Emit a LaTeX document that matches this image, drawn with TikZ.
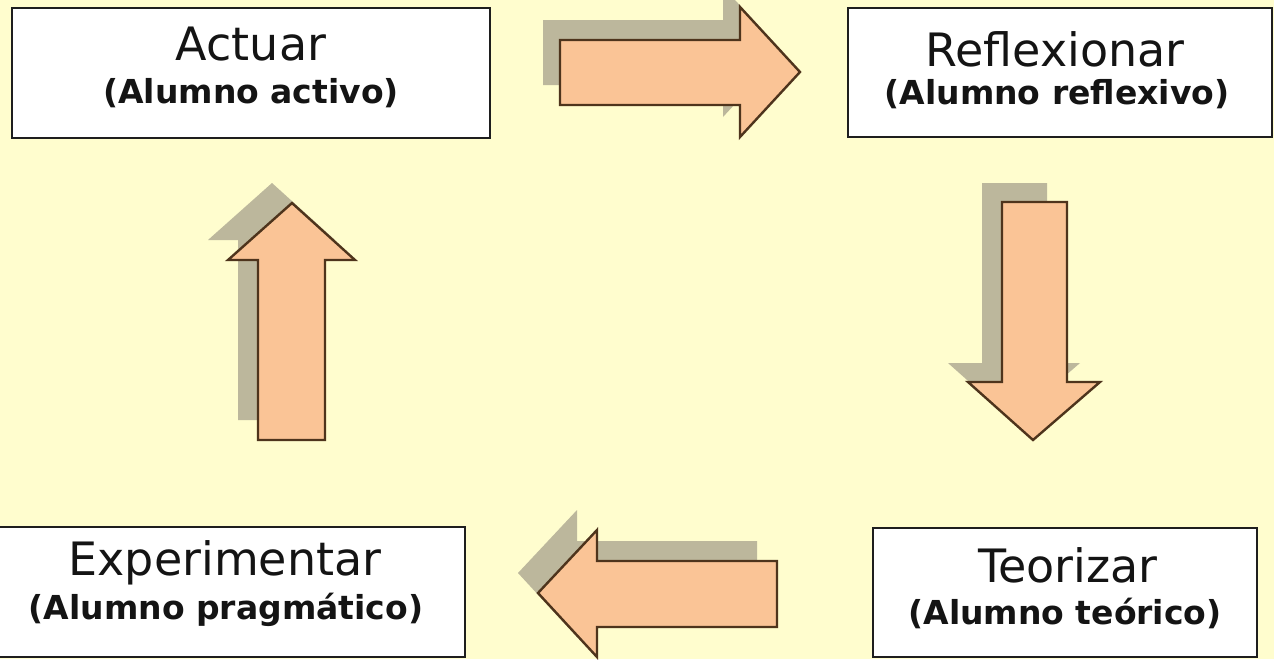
\documentclass[tikz,border=0pt]{standalone}
\usepackage{fontspec}
\setmainfont{DejaVu Sans}
\definecolor{bgc}{RGB}{255,253,206}
\definecolor{peach}{RGB}{250,196,150}
\definecolor{shadowc}{RGB}{188,183,156}
\definecolor{brownline}{RGB}{78,52,28}
\definecolor{boxline}{RGB}{30,30,30}
\tikzset{
  box/.style={draw=boxline, line width=1.2pt, fill=white, rectangle, inner sep=0pt},
  ttl/.style={anchor=base, inner sep=0pt, text=black!92, font=\fontsize{23}{27}\selectfont},
  sub/.style={anchor=base, inner sep=0pt, text=black!92, font=\bfseries\fontsize{16.5}{20}\selectfont},
  blockarrow/.style={fill=peach, draw=brownline, line width=1.2pt, line join=miter},
  arrowshadow/.style={fill=shadowc}
}
\begin{document}
\begin{tikzpicture}[x=0.5pt, y=-0.5pt]
\fill[bgc] (0,0) rectangle (1274,659);
\useasboundingbox (0,0) rectangle (1274,659);
\clip (0,0) rectangle (1274,659);

% boxes
\node[box, minimum width=239pt, minimum height=65pt] (actuar) at (251,73) {};
\node[box, minimum width=212pt, minimum height=64.5pt] (reflex) at (1060,72.5) {};
\node[box, minimum width=239pt, minimum height=65pt] (exper) at (226,592) {};
\node[box, minimum width=192pt, minimum height=64.5pt] (teor) at (1065,592.5) {};

% labels
\node[ttl] (actuarT) at (251,60) {Actuar};
\node[sub] (actuarS) at (251,103) {(Alumno activo)};
\node[ttl] (reflexT) at (1055,66) {Reflexionar};
\node[sub] (reflexS) at (1057,104) {(Alumno reflexivo)};
\node[ttl] (experT) at (225,575) {Experimentar};
\node[sub] (experS) at (226,619) {(Alumno pragmático)};
\node[ttl] (teorT) at (1068,582) {Teorizar};
\node[sub] (teorS) at (1065,624) {(Alumno teórico)};

% right arrow (top)
\fill[arrowshadow, shift={(-17,-20)}] (560,40) -- (740,40) -- (740,7) -- (800,72) -- (740,137) -- (740,105) -- (560,105) -- cycle;
\filldraw[blockarrow] (560,40) -- (740,40) -- (740,7) -- (800,72) -- (740,137) -- (740,105) -- (560,105) -- cycle;

% down arrow (right)
\fill[arrowshadow, shift={(-20,-19)}] (1002,202) -- (1067,202) -- (1067,382) -- (1100,382) -- (1033,440) -- (968,382) -- (1002,382) -- cycle;
\filldraw[blockarrow] (1002,202) -- (1067,202) -- (1067,382) -- (1100,382) -- (1033,440) -- (968,382) -- (1002,382) -- cycle;

% left arrow (bottom)
\fill[arrowshadow, shift={(-20,-20)}] (777,561) -- (597,561) -- (597,530) -- (538,593) -- (597,657) -- (597,627) -- (777,627) -- cycle;
\filldraw[blockarrow] (777,561) -- (597,561) -- (597,530) -- (538,593) -- (597,657) -- (597,627) -- (777,627) -- cycle;

% up arrow (left)
\fill[arrowshadow, shift={(-20,-20)}] (258,440) -- (258,260) -- (228,260) -- (292,203) -- (355,260) -- (325,260) -- (325,440) -- cycle;
\filldraw[blockarrow] (258,440) -- (258,260) -- (228,260) -- (292,203) -- (355,260) -- (325,260) -- (325,440) -- cycle;
\end{tikzpicture}
\end{document}
